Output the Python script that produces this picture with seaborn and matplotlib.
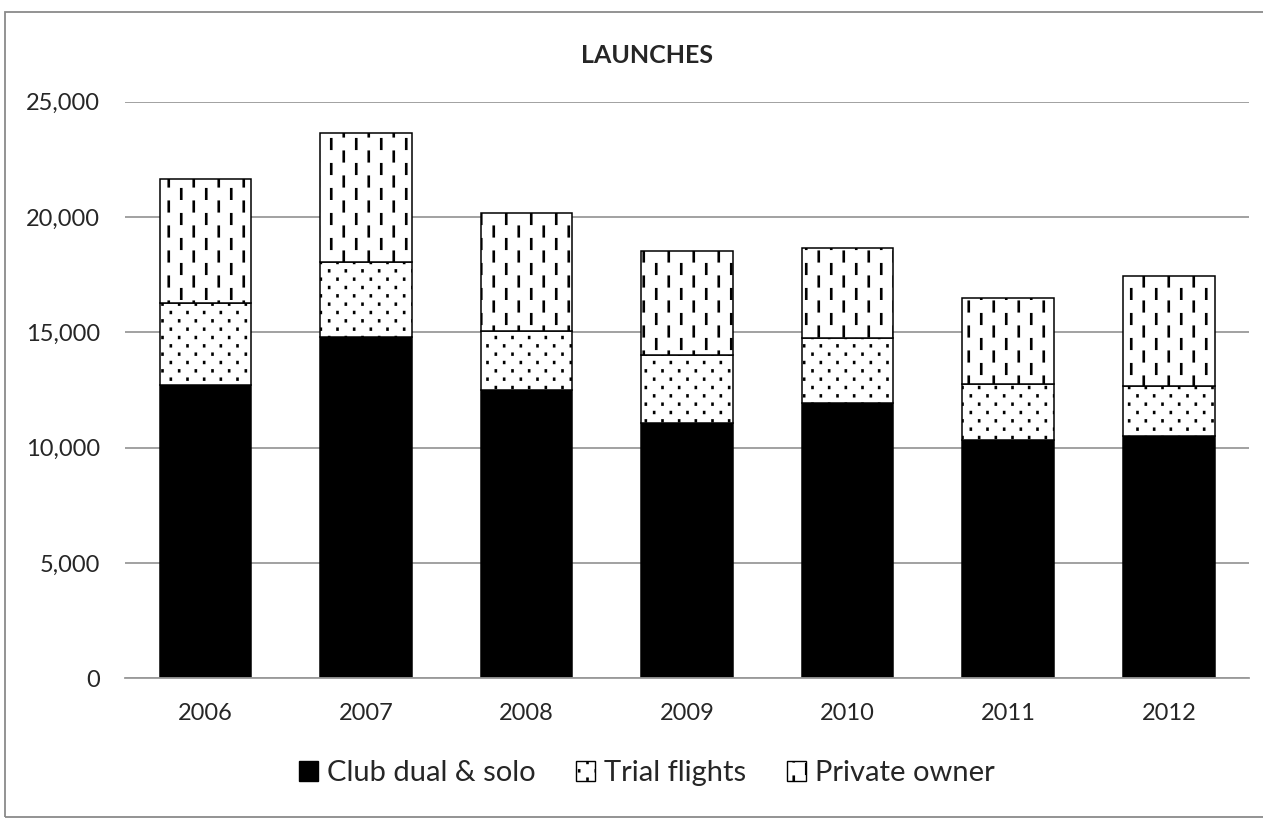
import warnings
import numpy as np
import pandas as pd
import matplotlib
matplotlib.use('Agg')
import matplotlib.pyplot as plt
import matplotlib.patches as mpatches
from matplotlib import hatch as mhatch
from matplotlib.path import Path
from matplotlib.ticker import FuncFormatter
import seaborn as sns

warnings.filterwarnings('ignore')

years = ['2006', '2007', '2008', '2009', '2010', '2011', '2012']
club = [12720, 14800, 12500, 11070, 11920, 10330, 10500]
trial = [3560, 3260, 2560, 2950, 2820, 2430, 2190]
private = [5380, 5600, 5110, 4510, 3910, 3730, 4760]
series_names = ['Club dual & solo', 'Trial flights', 'Private owner']


# staggered short vertical dashes, like the Excel "dashed vertical" fill
class ShortDashes(mhatch.HatchPatternBase):
    def __init__(self, hatch, density):
        self.num = 4 if '!' in hatch else 0
        self.num_vertices = self.num * self.num * 4

    def set_vertices_and_codes(self, vertices, codes):
        p = 1.0 / self.num
        k = 0
        for i in range(self.num):
            for j in range(self.num):
                for dx, y0 in ((0.25, 0.05), (0.75, 0.55)):
                    x = i * p + dx * p
                    vertices[k] = (x, j * p + y0 * p)
                    vertices[k + 1] = (x, j * p + (y0 + 0.38) * p)
                    codes[k] = Path.MOVETO
                    codes[k + 1] = Path.LINETO
                    k += 2


# small staggered dots (Excel "5%" fill)
class FineDots(mhatch.HatchPatternBase):
    def __init__(self, hatch, density):
        self.nx = 6 if ':' in hatch else 0
        self.ny = 12 if ':' in hatch else 0
        self.num_vertices = self.nx * self.ny * 2

    def set_vertices_and_codes(self, vertices, codes):
        px = 1.0 / self.nx
        py = 1.0 / self.ny
        k = 0
        for j in range(self.ny):
            shift = 0.25 if j % 2 == 0 else 0.75
            for i in range(self.nx):
                x = i * px + shift * px
                y = j * py + 0.5 * py
                vertices[k] = (x, y - 0.004)
                vertices[k + 1] = (x, y + 0.004)
                codes[k] = Path.MOVETO
                codes[k + 1] = Path.LINETO
                k += 2


mhatch._hatch_types.append(ShortDashes)
mhatch._hatch_types.append(FineDots)

sns.set_style('white')
plt.rcParams['font.family'] = ['Lato', 'DejaVu Sans']
plt.rcParams['hatch.linewidth'] = 1.9
plt.rcParams['hatch.color'] = 'black'

df = pd.DataFrame({'year': years, 'club': club, 'trial': trial, 'private': private})
bottom_trial = np.array(club)
bottom_private = bottom_trial + np.array(trial)

fig = plt.figure(figsize=(12.63, 8.21), dpi=100)
ax = fig.add_axes([0.099, 0.174, 0.890, 0.702])

sns.barplot(data=df, x='year', y='club', order=years, color='black',
            edgecolor='black', linewidth=1.1, width=0.57, ax=ax, saturation=1)
sns.barplot(data=df, x='year', y='trial', order=years, color='white',
            edgecolor='black', linewidth=1.1, width=0.57, ax=ax, saturation=1,
            bottom=bottom_trial, hatch=':')
sns.barplot(data=df, x='year', y='private', order=years, color='white',
            edgecolor='black', linewidth=1.1, width=0.57, ax=ax, saturation=1,
            bottom=bottom_private, hatch='!')

ax.set_ylim(0, 25000)
ax.set_yticks(range(0, 25001, 5000))
ax.yaxis.set_major_formatter(FuncFormatter(lambda v, _: f'{int(v):,}'))
ax.set_xlabel('')
ax.set_ylabel('')
ax.grid(axis='y', color='#9a9a9a', linewidth=1.3)
ax.set_axisbelow(True)
for s in ['top', 'right', 'left']:
    ax.spines[s].set_visible(False)
ax.spines['bottom'].set_color('#9a9a9a')
ax.spines['bottom'].set_linewidth(1.3)
ax.tick_params(axis='both', length=0, labelsize=17)
ax.tick_params(axis='x', pad=18)
ax.tick_params(axis='y', pad=18)

fig.text(0.512, 0.933, 'LAUNCHES', ha='center', va='center',
         fontsize=18, fontweight='bold')

handles = [
    mpatches.Patch(facecolor='black', edgecolor='black', label=series_names[0]),
    mpatches.Patch(facecolor='white', edgecolor='black', hatch=':', label=series_names[1]),
    mpatches.Patch(facecolor='white', edgecolor='black', hatch='!', label=series_names[2]),
]
fig.legend(handles=handles, loc='center', bbox_to_anchor=(0.512, 0.058), ncol=3,
           frameon=False, fontsize=21, handlelength=0.65, handleheight=0.65,
           handletextpad=0.3, columnspacing=1.4)

fig.patches.append(mpatches.Rectangle((0.004, 0.005), 0.998, 0.98,
                                      transform=fig.transFigure, fill=False,
                                      edgecolor='#8a8a8a', linewidth=1.3))

fig.savefig('out.png', dpi=100)
